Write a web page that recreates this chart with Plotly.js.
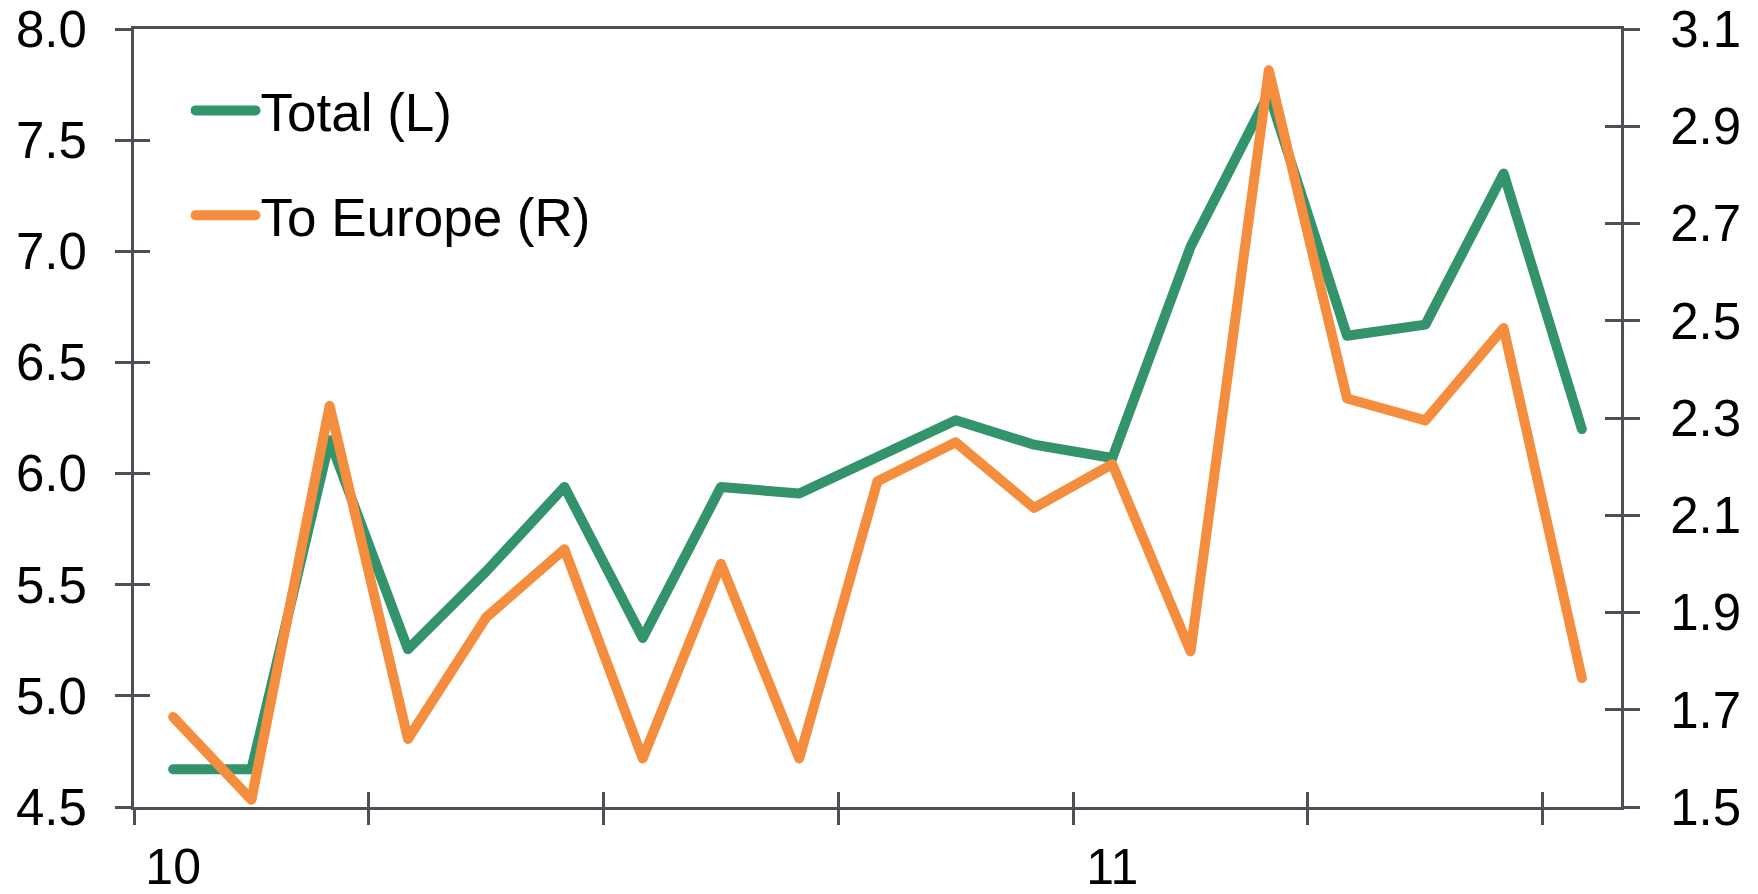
<!DOCTYPE html>
<html>
<head>
<meta charset="utf-8">
<script src="https://cdn.plot.ly/plotly-3.0.1.min.js"></script>
<style>
  html, body { margin: 0; padding: 0; background: #ffffff; }
  #chart { width: 1758px; height: 894px; }
  .scatterlayer .js-line { stroke-linejoin: round; stroke-linecap: round; }
  .legendlines path { stroke-linecap: round; }
</style>
</head>
<body>
<div id="chart"></div>
<script>
// ---- data ----
const months = ['Jan 2010','Feb 2010','Mar 2010','Apr 2010','May 2010','Jun 2010',
                'Jul 2010','Aug 2010','Sep 2010','Oct 2010','Nov 2010','Dec 2010',
                'Jan 2011','Feb 2011','Mar 2011','Apr 2011','May 2011','Jun 2011','Jul 2011'];
const total    = [4.67, 4.67, 6.15, 5.21, 5.56, 5.94, 5.26, 5.94, 5.91, 6.08,
                  6.24, 6.13, 6.07, 7.02, 7.71, 6.62, 6.67, 7.35, 6.20];
const toEurope = [1.685, 1.515, 2.325, 1.64, 1.89, 2.03, 1.60, 2.00, 1.60, 2.17,
                  2.25, 2.115, 2.205, 1.82, 3.015, 2.34, 2.295, 2.485, 1.765];
const seriesNames = ['Total (L)', 'To Europe (R)'];
const quarterStarts = ['Jan 2010','Apr 2010','Jul 2010','Oct 2010','Jan 2011','Apr 2011','Jul 2011'];
const yearLabelMonths = ['Jan 2010','Jan 2011'];
const yearLabels = ['10','11'];
const leftTicks  = [4.5, 5.0, 5.5, 6.0, 6.5, 7.0, 7.5, 8.0];
const rightTicks = [1.5, 1.7, 1.9, 2.1, 2.3, 2.5, 2.7, 2.9, 3.1];

// ---- derived ----
const xIdx = months.map((m, i) => i);
const quarterTickVals = quarterStarts.map(q => months.indexOf(q) - 0.5);
const yearTickVals = yearLabelMonths.map(m => months.indexOf(m));
const xRange = [-0.5, months.length - 0.5];

const green = '#33936b';
const orange = '#f58d3e';
const axisColor = '#4c5056';
const fontFamily = '"Liberation Sans", Arial, sans-serif';
const fs = 51;
const legendFs = 53;

// helper traces that draw nothing; they only make the extra tick axes appear
function helper(xa, ya, yv) {
  return { x: xIdx, y: yv, type: 'scatter', mode: 'none', xaxis: xa, yaxis: ya,
           showlegend: false, hoverinfo: 'skip' };
}

const traces = [
  helper('x2', 'y', total),
  helper('x3', 'y', total),
  helper('x', 'y3', total),
  helper('x', 'y4', toEurope),
  { x: xIdx, y: total, name: seriesNames[0], type: 'scatter', mode: 'lines',
    line: { color: green, width: 10 }, xaxis: 'x', yaxis: 'y', legendgroup: 'a',
    hoverinfo: 'skip' },
  { x: xIdx, y: toEurope, name: seriesNames[1], type: 'scatter', mode: 'lines',
    line: { color: orange, width: 10 }, xaxis: 'x', yaxis: 'y2', legendgroup: 'b',
    hoverinfo: 'skip' }
];

const baseX = { range: xRange, showgrid: false, zeroline: false, fixedrange: true };
const baseYL = { range: [leftTicks[0], leftTicks[leftTicks.length - 1]], showgrid: false, zeroline: false, fixedrange: true };
const baseYR = { range: [rightTicks[0], rightTicks[rightTicks.length - 1]], showgrid: false, zeroline: false, fixedrange: true };

const layout = {
  width: 1758, height: 894,
  margin: { l: 134, r: 137, t: 29, b: 87, pad: 0 },
  paper_bgcolor: '#ffffff', plot_bgcolor: '#ffffff',
  font: { family: fontFamily, color: '#000000', size: fs },
  showlegend: true,
  legend: {
    x: 0.038, y: 0.948, xanchor: 'left', yanchor: 'top',
    bgcolor: 'rgba(0,0,0,0)', font: { size: legendFs, family: fontFamily, color: '#000' },
    tracegroupgap: 33, itemwidth: 60
  },
  xaxis: Object.assign({}, baseX, {
    tickmode: 'array', tickvals: quarterTickVals, showticklabels: false,
    ticks: 'outside', ticklen: 15, tickwidth: 3, tickcolor: axisColor,
    showline: true, linewidth: 3, linecolor: axisColor, mirror: true
  }),
  xaxis2: Object.assign({}, baseX, {
    overlaying: 'x', anchor: 'y', side: 'bottom',
    tickmode: 'array', tickvals: quarterTickVals, showticklabels: false,
    ticks: 'inside', ticklen: 15, tickwidth: 3, tickcolor: axisColor, showline: false
  }),
  xaxis3: Object.assign({}, baseX, {
    overlaying: 'x', anchor: 'y', side: 'bottom',
    tickmode: 'array', tickvals: yearTickVals, ticktext: yearLabels,
    ticks: '', showline: false, ticklabelstandoff: 26,
    tickfont: { size: 50, family: fontFamily, color: '#000' }
  }),
  yaxis: Object.assign({}, baseYL, {
    tickmode: 'array', tickvals: leftTicks, ticktext: leftTicks.map(v => v.toFixed(1)),
    ticks: 'outside', ticklen: 16, tickwidth: 3, tickcolor: axisColor,
    showline: true, linewidth: 3, linecolor: axisColor, ticklabelstandoff: 18,
    tickfont: { size: fs, family: fontFamily, color: '#000' }
  }),
  yaxis3: Object.assign({}, baseYL, {
    overlaying: 'y', anchor: 'x', side: 'left',
    tickmode: 'array', tickvals: leftTicks, showticklabels: false,
    ticks: 'inside', ticklen: 16, tickwidth: 3, tickcolor: axisColor, showline: false
  }),
  yaxis2: Object.assign({}, baseYR, {
    overlaying: 'y', anchor: 'x', side: 'right',
    tickmode: 'array', tickvals: rightTicks, ticktext: rightTicks.map(v => v.toFixed(1)),
    ticks: 'outside', ticklen: 16, tickwidth: 3, tickcolor: axisColor,
    showline: true, linewidth: 3, linecolor: axisColor, ticklabelstandoff: 20,
    tickfont: { size: fs, family: fontFamily, color: '#000' }
  }),
  yaxis4: Object.assign({}, baseYR, {
    overlaying: 'y', anchor: 'x', side: 'right',
    tickmode: 'array', tickvals: rightTicks, showticklabels: false,
    ticks: 'inside', ticklen: 16, tickwidth: 3, tickcolor: axisColor, showline: false
  })
};

Plotly.newPlot('chart', traces, layout, { displayModeBar: false, staticPlot: true });
</script>
</body>
</html>
